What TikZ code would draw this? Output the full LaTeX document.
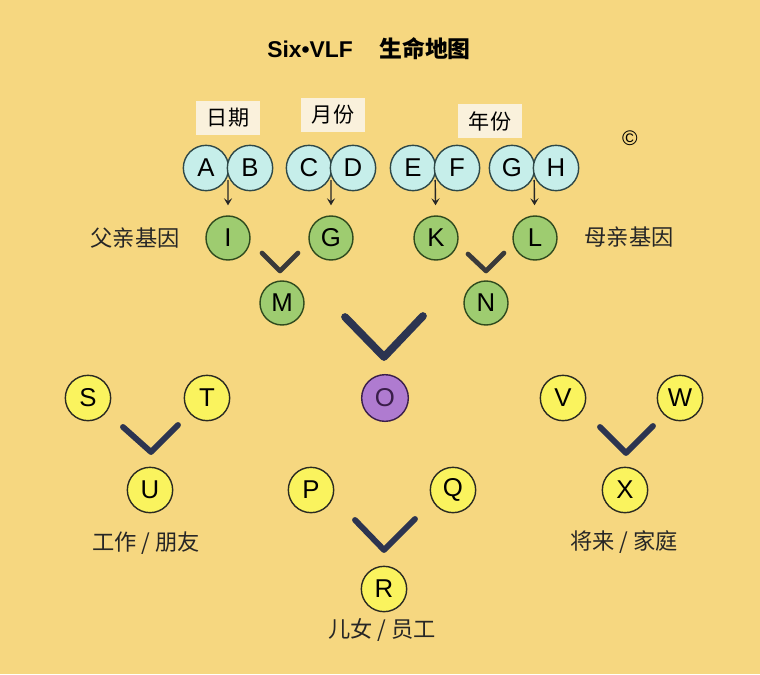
\documentclass[tikz,border=0pt]{standalone}
\usepackage{fontspec}
\setmainfont{Liberation Sans}
\newfontfamily\cjk{Noto Sans CJK SC}
\usetikzlibrary{positioning}
\usetikzlibrary{calc}
\usetikzlibrary{arrows.meta}
\definecolor{bg}{HTML}{F6D780}
\definecolor{tagfill}{HTML}{FAF1DC}
\definecolor{cyanfill}{HTML}{C6EEEA}
\definecolor{cyanline}{HTML}{2E4848}
\definecolor{greenfill}{HTML}{9ECC70}
\definecolor{greenline}{HTML}{2F4A1E}
\definecolor{yellowfill}{HTML}{FAF35E}
\definecolor{yellowline}{HTML}{2A2A22}
\definecolor{purplefill}{HTML}{AF7BD0}
\definecolor{purpleline}{HTML}{3A1E4A}
\definecolor{markgray}{HTML}{3A3A3A}
\definecolor{marknavy}{HTML}{2C3450}

\begin{document}
\begin{tikzpicture}[x=0.03cm,y=-0.03cm,>={Stealth[length=6pt,width=7pt,inset=2.5pt]},node distance=1.32cm,
	ball/.style={circle,draw,line width=1.2pt,minimum size=1.36cm,inner sep=0pt,
		font=\fontsize{22}{24}\selectfont},
	day node/.style={ball,fill=cyanfill,draw=cyanline},
	gene node/.style={ball,fill=greenfill,draw=greenline,minimum size=1.32cm},
	life node/.style={ball,fill=yellowfill,draw=yellowline},
	tag/.style={fill=tagfill,minimum width=1.9cm,minimum height=1cm,
		font=\cjk\fontsize{18}{20}\selectfont},
	caption/.style={font=\cjk\fontsize{19}{21}\selectfont,text=black!85},
	vmark/.style={line width=4pt,line cap=round,line join=round,draw=markgray},
	pick/.style={->,line width=1.2pt,draw=black!85,shorten <=0.36cm,shorten >=0.3cm}]
	
	\fill[bg] (0,0) rectangle (760,674);
	\useasboundingbox (0,0) rectangle (760,674);
	
	% title
	\node (title) at (310,49) {\fontsize{19.5}{21}\selectfont\bfseries Six•VLF};
	\node (map) at (425,49) {\cjk\fontsize{19.5}{21}\selectfont\bfseries 生命地图};
	\node (copy) at (630,138) {\fontsize{18}{18}\selectfont\textcopyright};
	
	% day, month, year
	\node[tag] (day) at (228,118) {日期};
	\node[tag] (month) at (333,115) {月份};
	\node[tag] (year) at (490,121) {年份};
	
	\node[day node] (a) at (206,168) {A};
	\node[day node] (b) [right of=a] {B};
	\node[day node] (c) at (309,168) {C};
	\node[day node] (d) [right of=c] {D};
	\node[day node] (e) at (413,168) {E};
	\node[day node] (f) [right of=e] {F};
	\node[day node] (g) at (512,168) {G};
	\node[day node] (h) [right of=g] {H};
	
	% genes
	\node[gene node] (i) at (228,238) {I};
	\node[gene node] (g2) at (331,238) {G};
	\node[gene node] (k) at (436,238) {K};
	\node[gene node] (l) at (535,238) {L};
	\node[gene node] (m) at (282,303) {M};
	\node[gene node] (n) at (486,303) {N};
	\node[caption] (father) at (135,238) {父亲基因};
	\node[caption] (mother) at (629,237) {母亲基因};
	
	\draw[pick] ($(a)!0.5!(b)$) -- (i);
	\draw[pick] ($(c)!0.5!(d)$) -- (g2);
	\draw[pick] ($(e)!0.5!(f)$) -- (k);
	\draw[pick] ($(g)!0.5!(h)$) -- (l);
	
	\draw[vmark] (262,253) -- (280,271) -- (298,253);
	\draw[vmark] (468,254) -- (486,271) -- (504,253);
	\draw[vmark,draw=marknavy,line width=6.6pt] (345,317) -- (384,357) -- (423,316);
	
	% centre
	\node[ball,fill=purplefill,draw=purpleline,minimum size=1.4cm,text=purpleline] (o) at (385,398) {O};
	
	% work / friends
	\node[life node] (s) at (88,398) {S};
	\node[life node] (t) at (207,398) {T};
	\node[life node] (u) at (150,490) {U};
	\draw[vmark,draw=marknavy,line width=5pt] (123,427) -- (151,452) -- (178,425);
	\node[caption] (work) at (146,543) {工作 / 朋友};
	
	% children / staff
	\node[life node] (p) at (311,490) {P};
	\node[life node] (q) at (453,490) {Q};
	\node[life node] (r) at (384,589) {R};
	\draw[vmark,draw=marknavy,line width=5pt] (355,520) -- (384,550) -- (415,519);
	\node[caption] (kids) at (382,630) {儿女 / 员工};
	
	% future / family
	\node[life node] (v) at (563,398) {V};
	\node[life node] (w) at (680,398) {W};
	\node[life node] (x) at (625,490) {X};
	\draw[vmark,draw=marknavy,line width=5pt] (600,427) -- (626,453) -- (653,426);
	\node[caption] (future) at (624,542) {将来 / 家庭};
\end{tikzpicture}
\end{document}
